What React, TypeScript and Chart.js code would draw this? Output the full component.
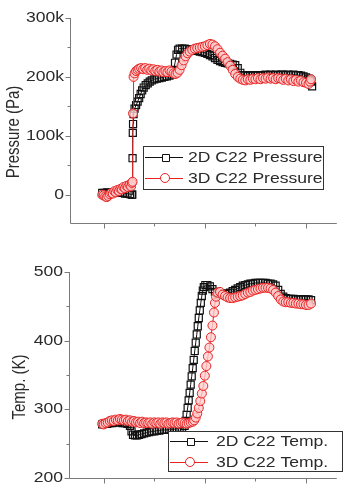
import React, { useEffect, useRef } from 'react';
import { Chart, registerables } from 'chart.js';

Chart.register(...registerables);

// ---------------- data (x: time units, ticks 0..4 unlabeled) ----------------
// Pressure in kPa (converted to Pa when plotted)
const pressure2D: [number, number][] = [
  [-0.03, 3], [0.02, 3], [0.07, 4], [0.12, 3], [0.17, 4], [0.22, 4], [0.27, 3], [0.32, 4], [0.37, 3], [0.42, 2],
  [0.47, 2], [0.52, 1], [0.555, 0], [0.565, 0], [0.57, 62], [0.575, 105], [0.58, 120], [0.59, 137], [0.61, 146],
  [0.64, 152], [0.67, 158], [0.7, 164], [0.73, 171], [0.76, 177], [0.79, 182], [0.83, 186], [0.87, 189], [0.91, 192],
  [0.95, 194], [1.0, 196], [1.05, 197], [1.1, 198], [1.15, 199], [1.2, 200], [1.25, 201], [1.3, 202], [1.35, 204],
  [1.38, 210], [1.41, 224], [1.44, 238], [1.47, 246], [1.5, 248], [1.55, 248], [1.6, 248], [1.65, 247], [1.7, 247],
  [1.75, 246], [1.8, 245], [1.85, 244], [1.9, 243], [1.95, 242], [2.0, 241], [2.05, 239], [2.1, 237], [2.15, 235],
  [2.2, 232], [2.25, 229], [2.3, 227], [2.35, 225], [2.4, 224], [2.45, 223], [2.5, 222], [2.55, 221], [2.6, 220],
  [2.65, 215], [2.7, 207], [2.75, 203], [2.8, 202], [2.85, 202], [2.9, 203], [2.95, 202], [3.0, 203], [3.05, 203],
  [3.1, 202], [3.15, 203], [3.2, 204], [3.25, 203], [3.3, 204], [3.35, 203], [3.4, 204], [3.45, 203], [3.5, 204],
  [3.55, 204], [3.6, 203], [3.65, 204], [3.7, 203], [3.75, 204], [3.8, 203], [3.85, 203], [3.9, 202], [3.95, 201],
  [4.0, 199], [4.05, 197], [4.08, 195], [4.1, 192], [4.12, 184],
];

const pressure3D: [number, number][] = [
  [-0.03, 0], [0.0, -1], [0.03, -3], [0.06, -4], [0.09, -2], [0.12, 1], [0.15, 3], [0.18, 2], [0.21, 6], [0.24, 4],
  [0.27, 8], [0.3, 6], [0.33, 10], [0.36, 9], [0.39, 13], [0.42, 11], [0.45, 15], [0.48, 13], [0.51, 17], [0.54, 14],
  [0.555, 20], [0.57, 22], [0.58, 138], [0.59, 200], [0.61, 206], [0.64, 210], [0.67, 212], [0.7, 214], [0.74, 215],
  [0.78, 213], [0.82, 215], [0.86, 212], [0.9, 214], [0.94, 211], [0.98, 213], [1.02, 210], [1.06, 212], [1.1, 209],
  [1.14, 211], [1.18, 208], [1.22, 210], [1.26, 208], [1.3, 211], [1.34, 209], [1.38, 206], [1.42, 205], [1.46, 207],
  [1.5, 212], [1.54, 220], [1.58, 228], [1.62, 235], [1.66, 240], [1.7, 243], [1.75, 246], [1.8, 248], [1.85, 249],
  [1.9, 250], [1.95, 251], [2.0, 252], [2.05, 254], [2.1, 256], [2.15, 255], [2.2, 252], [2.25, 247], [2.3, 241],
  [2.35, 236], [2.4, 231], [2.45, 225], [2.5, 219], [2.55, 212], [2.6, 205], [2.65, 200], [2.7, 197], [2.75, 195],
  [2.8, 194], [2.85, 196], [2.9, 195], [2.95, 197], [3.0, 196], [3.05, 198], [3.1, 196], [3.15, 198], [3.2, 197],
  [3.25, 199], [3.3, 197], [3.35, 198], [3.4, 196], [3.45, 198], [3.5, 197], [3.55, 195], [3.6, 197], [3.65, 194],
  [3.7, 196], [3.75, 193], [3.8, 195], [3.85, 192], [3.9, 194], [3.95, 191], [4.0, 190], [4.05, 188], [4.08, 192],
  [4.1, 196],
];

// Temperature in K
const temp2D: [number, number][] = [
  [-0.03, 278], [0.02, 279], [0.07, 279], [0.12, 280], [0.17, 280], [0.22, 281], [0.27, 281], [0.32, 281], [0.37, 280],
  [0.42, 280], [0.47, 279], [0.52, 276], [0.55, 268], [0.58, 263], [0.62, 262], [0.66, 262], [0.7, 263], [0.75, 264],
  [0.8, 265], [0.85, 266], [0.9, 267], [0.95, 268], [1.0, 268], [1.05, 269], [1.1, 269], [1.15, 270], [1.2, 270],
  [1.25, 270], [1.3, 271], [1.35, 271], [1.4, 271], [1.45, 272], [1.5, 272], [1.55, 273], [1.6, 276], [1.62, 283],
  [1.64, 292], [1.66, 302], [1.68, 313], [1.7, 324], [1.72, 336], [1.74, 348], [1.76, 360], [1.78, 372], [1.8, 385],
  [1.82, 397], [1.84, 409], [1.86, 421], [1.88, 433], [1.9, 444], [1.92, 455], [1.94, 465], [1.96, 473], [1.98, 478],
  [2.01, 481], [2.05, 481], [2.1, 479], [2.15, 475], [2.2, 471], [2.25, 469], [2.3, 468], [2.35, 467], [2.4, 468],
  [2.45, 469], [2.5, 470], [2.55, 472], [2.6, 474], [2.65, 476], [2.7, 478], [2.75, 480], [2.8, 481], [2.85, 482],
  [2.9, 483], [2.95, 483], [3.0, 484], [3.05, 484], [3.1, 484], [3.15, 484], [3.2, 484], [3.25, 483], [3.3, 483],
  [3.35, 482], [3.4, 480], [3.45, 474], [3.5, 468], [3.55, 464], [3.6, 462], [3.65, 461], [3.7, 461], [3.75, 461],
  [3.8, 460], [3.85, 460], [3.9, 460], [3.95, 460], [4.0, 460], [4.05, 460], [4.1, 459],
];

const temp3D: [number, number][] = [
  [-0.03, 279], [0.0, 278], [0.04, 280], [0.08, 281], [0.12, 283], [0.16, 284], [0.2, 283], [0.24, 285], [0.28, 284],
  [0.32, 286], [0.36, 285], [0.4, 284], [0.44, 285], [0.48, 283], [0.52, 284], [0.56, 282], [0.6, 283], [0.64, 281],
  [0.68, 282], [0.72, 280], [0.76, 282], [0.8, 280], [0.84, 281], [0.88, 280], [0.92, 281], [0.96, 279], [1.0, 281],
  [1.04, 280], [1.08, 281], [1.12, 279], [1.16, 281], [1.2, 280], [1.24, 281], [1.28, 279], [1.32, 280], [1.36, 281],
  [1.4, 280], [1.44, 281], [1.48, 279], [1.52, 280], [1.56, 281], [1.6, 280], [1.64, 279], [1.68, 280], [1.72, 281],
  [1.76, 282], [1.79, 284], [1.82, 288], [1.85, 294], [1.88, 302], [1.91, 312], [1.94, 323], [1.97, 334], [2.0, 349],
  [2.03, 363], [2.06, 377], [2.09, 390], [2.12, 405], [2.15, 422], [2.18, 441], [2.2, 455], [2.22, 464], [2.25, 470],
  [2.3, 471], [2.35, 467], [2.4, 465], [2.45, 463], [2.5, 462], [2.55, 462], [2.6, 463], [2.65, 464], [2.7, 465],
  [2.75, 466], [2.8, 468], [2.85, 470], [2.9, 471], [2.95, 473], [3.0, 474], [3.05, 475], [3.1, 476], [3.15, 477],
  [3.2, 477], [3.25, 477], [3.3, 476], [3.35, 474], [3.4, 470], [3.45, 465], [3.5, 460], [3.55, 457], [3.6, 456],
  [3.65, 456], [3.7, 455], [3.75, 455], [3.8, 454], [3.85, 454], [3.9, 453], [3.95, 453], [4.0, 452], [4.05, 452],
  [4.1, 454],
];

// ---------------- ticks / labels ----------------
const pressureTicks = [0, 100000, 200000, 300000];
const pressureTickLabels = ['0', '100k', '200k', '300k'];
const pressureMinorTicks = [50000, 150000, 250000];
const tempTicks = [200, 300, 400, 500];
const tempTickLabels = ['200', '300', '400', '500'];
const tempMinorTicks = [250, 350, 450];
const xMajorTicks = [0, 2, 4];
const xMinorTicks = [1, 3];

const pressureLegend = ['2D C22 Pressure', '3D C22 Pressure'];
const tempLegend = ['2D C22 Temp.', '3D C22 Temp.'];

// ---------------- styles ----------------
const BLACK = '#111111';
const RED = '#e82222';
const RED_FILL = 'rgba(255,205,205,0.75)';
const AXIS = '#7a7a7a';
const TEXT = '#2a2a2a';
const FONT = '15px "Liberation Sans", Arial, sans-serif';
const SX = 1.17;

type LegendCfg = {
  left: number; top: number; right: number; bottom: number;
  rows: number[]; lineX1: number; lineX2: number; markerX: number; textX: number; items: string[];
};
type OverlayCfg = {
  yMajor: number[]; yLabels: string[]; yMinor: number[];
  labelRight: number; title: string; titleX: number; titleY: number; legend: LegendCfg;
};

function drawSquare(ctx: CanvasRenderingContext2D, x: number, y: number) {
  ctx.beginPath();
  ctx.rect(Math.round(x - 3.5) + 0.5, Math.round(y - 3.5) + 0.5, 7, 7);
  ctx.fillStyle = '#ffffff';
  ctx.fill();
  ctx.strokeStyle = BLACK;
  ctx.stroke();
}
function drawCircle(ctx: CanvasRenderingContext2D, x: number, y: number) {
  ctx.beginPath();
  ctx.arc(x, y, 4.5, 0, Math.PI * 2);
  ctx.fillStyle = '#ffffff';
  ctx.fill();
  ctx.strokeStyle = RED;
  ctx.stroke();
}

function overlayPlugin(cfg: OverlayCfg) {
  return {
    id: 'overlay',
    afterDatasetsDraw(chart: any) {
      const { ctx, chartArea: a, scales } = chart;
      const xs = scales.x;
      const ys = scales.y;
      ctx.save();
      ctx.lineWidth = 1;
      ctx.strokeStyle = AXIS;
      const L = Math.round(a.left) + 0.5;
      const B = Math.round(a.bottom) + 0.5;
      ctx.beginPath();
      ctx.moveTo(L, Math.round(a.top));
      ctx.lineTo(L, B);
      ctx.lineTo(a.right, B);
      cfg.yMajor.forEach((v) => {
        const p = Math.round(ys.getPixelForValue(v)) + 0.5;
        ctx.moveTo(L - 5, p); ctx.lineTo(L, p);
      });
      cfg.yMinor.forEach((v) => {
        const p = Math.round(ys.getPixelForValue(v)) + 0.5;
        ctx.moveTo(L - 3, p); ctx.lineTo(L, p);
      });
      xMajorTicks.forEach((v) => {
        const p = Math.round(xs.getPixelForValue(v)) + 0.5;
        ctx.moveTo(p, B); ctx.lineTo(p, B + 5);
      });
      xMinorTicks.forEach((v) => {
        const p = Math.round(xs.getPixelForValue(v)) + 0.5;
        ctx.moveTo(p, B); ctx.lineTo(p, B + 3);
      });
      ctx.stroke();

      ctx.fillStyle = TEXT;
      ctx.font = FONT;
      ctx.textAlign = 'right';
      ctx.textBaseline = 'middle';
      cfg.yMajor.forEach((v, i) => {
        const p = ys.getPixelForValue(v);
        ctx.save();
        ctx.translate(cfg.labelRight, p);
        ctx.scale(SX, 1);
        ctx.fillText(cfg.yLabels[i], 0, 0);
        ctx.restore();
      });

      ctx.save();
      ctx.translate(cfg.titleX, cfg.titleY);
      ctx.scale(SX, 1);
      ctx.rotate(-Math.PI / 2);
      ctx.textAlign = 'center';
      ctx.fillText(cfg.title, 0, 0);
      ctx.restore();

      // legend
      const lg = cfg.legend;
      ctx.fillStyle = '#ffffff';
      ctx.fillRect(lg.left, lg.top, lg.right - lg.left, lg.bottom - lg.top);
      ctx.strokeStyle = '#333333';
      ctx.strokeRect(lg.left + 0.5, lg.top + 0.5, lg.right - lg.left, lg.bottom - lg.top);
      lg.rows.forEach((ry, i) => {
        const color = i === 0 ? BLACK : RED;
        ctx.strokeStyle = color;
        ctx.beginPath();
        ctx.moveTo(lg.lineX1, ry + 0.5);
        ctx.lineTo(lg.lineX2, ry + 0.5);
        ctx.stroke();
        if (i === 0) drawSquare(ctx, lg.markerX, ry);
        else drawCircle(ctx, lg.markerX, ry);
        ctx.save();
        ctx.translate(lg.textX, ry + 1);
        ctx.scale(SX, 1);
        ctx.fillStyle = TEXT;
        ctx.font = FONT;
        ctx.textAlign = 'left';
        ctx.textBaseline = 'middle';
        ctx.fillText(lg.items[i], 0, 0);
        ctx.restore();
      });
      ctx.restore();
    },
  };
}

function makeDatasets(d2: [number, number][], d3: [number, number][], factor: number, labels: string[]) {
  return [
    {
      label: labels[0],
      data: d2.map(([x, y]) => ({ x, y: y * factor })),
      borderColor: BLACK,
      borderWidth: 1,
      pointStyle: 'rect',
      pointRadius: 5,
      pointBorderWidth: 1.2,
      pointBorderColor: BLACK,
      pointBackgroundColor: 'rgba(255,255,255,0)',
      order: 1,
    },
    {
      label: labels[1],
      data: d3.map(([x, y]) => ({ x, y: y * factor })),
      borderColor: RED,
      borderWidth: 1,
      pointStyle: 'circle',
      pointRadius: 4.5,
      pointBorderWidth: 1,
      pointBorderColor: RED,
      pointBackgroundColor: RED_FILL,
      order: 0,
    },
  ];
}

function makeConfig(opts: {
  datasets: any[]; yMin: number; yMax: number; xMin: number; xMax: number;
  padTop: number; yWidth: number; xHeight: number; overlay: OverlayCfg;
}) {
  return {
    type: 'line' as const,
    data: { datasets: opts.datasets },
    options: {
      animation: false as const,
      responsive: false,
      maintainAspectRatio: false,
      layout: { padding: { top: opts.padTop, left: 0, right: 0, bottom: 0 } },
      plugins: { legend: { display: false }, tooltip: { enabled: false }, title: { display: false } },
      elements: { line: { tension: 0 } },
      scales: {
        x: {
          type: 'linear' as const,
          min: opts.xMin,
          max: opts.xMax,
          grid: { display: false },
          border: { display: false },
          ticks: { display: false },
          afterFit: (s: any) => { s.height = opts.xHeight; },
        },
        y: {
          type: 'linear' as const,
          min: opts.yMin,
          max: opts.yMax,
          grid: { display: false },
          border: { display: false },
          ticks: { display: false },
          afterFit: (s: any) => { s.width = opts.yWidth; },
        },
      },
    },
    plugins: [overlayPlugin(opts.overlay)],
  };
}

export default function App() {
  const ref1 = useRef<HTMLCanvasElement>(null);
  const ref2 = useRef<HTMLCanvasElement>(null);

  useEffect(() => {
    const c1 = new Chart(ref1.current as HTMLCanvasElement, makeConfig({
      datasets: makeDatasets(pressure2D, pressure3D, 1000, pressureLegend),
      yMin: -48000, yMax: 300000, xMin: -0.667, xMax: 4.609,
      padTop: 18, yWidth: 70, xHeight: 22,
      overlay: {
        yMajor: pressureTicks, yLabels: pressureTickLabels, yMinor: pressureMinorTicks,
        labelRight: 64, title: 'Pressure (Pa)', titleX: 14, titleY: 132,
        legend: {
          left: 143, top: 146, right: 323, bottom: 189, rows: [157, 178],
          lineX1: 145, lineX2: 183, markerX: 165, textX: 188, items: pressureLegend,
        },
      },
    }) as any);
    const c2 = new Chart(ref2.current as HTMLCanvasElement, makeConfig({
      datasets: makeDatasets(temp2D, temp3D, 1, tempLegend),
      yMin: 200, yMax: 500, xMin: -0.686, xMax: 4.609,
      padTop: 27, yWidth: 69, xHeight: 7,
      overlay: {
        yMajor: tempTicks, yLabels: tempTickLabels, yMinor: tempMinorTicks,
        labelRight: 63, title: 'Temp. (K)', titleX: 20, titleY: 142,
        legend: {
          left: 168, top: 186, right: 342, bottom: 226, rows: [196, 217],
          lineX1: 170, lineX2: 208, markerX: 190, textX: 216, items: tempLegend,
        },
      },
    }) as any);
    return () => { c1.destroy(); c2.destroy(); };
  }, []);

  return (
    <div style={{ position: 'absolute', left: 0, top: 0, width: 343, height: 485, background: '#ffffff' }}>
      <canvas ref={ref1} width={343} height={245} style={{ position: 'absolute', left: 0, top: 0, display: 'block' }} />
      <canvas ref={ref2} width={343} height={240} style={{ position: 'absolute', left: 0, top: 245, display: 'block' }} />
    </div>
  );
}
